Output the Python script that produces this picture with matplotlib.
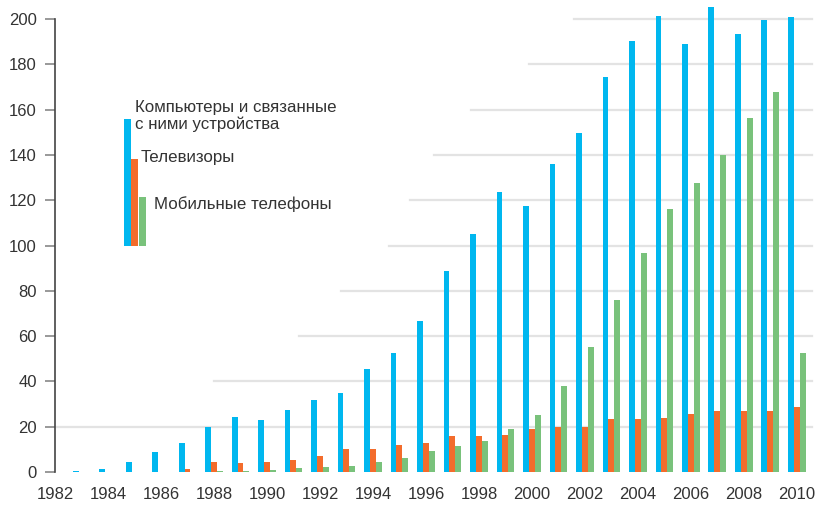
import numpy as np
import matplotlib.pyplot as plt
import matplotlib as mpl

years = np.arange(1983, 2011)
# компьютеры и связанные с ними устройства
computers = [0.5, 1.3, 4.4, 8.8, 12.8, 19.9, 24.3, 23.0, 27.4, 31.8, 34.9, 45.5, 52.6, 66.7,
             88.7, 105.0, 123.6, 117.4, 136.0, 149.7, 174.4, 190.3, 201.3, 189.0, 205.3,
             193.4, 199.6, 200.9]
# телевизоры
tvs = [0, 0, 0, 0, 1.3, 4.4, 4.0, 4.4, 5.3, 7.1, 10.2, 10.2, 11.9, 12.8, 15.9, 15.9, 16.3,
       18.9, 19.8, 19.8, 23.3, 23.3, 23.7, 25.5, 26.8, 26.8, 26.8, 28.5]
# мобильные телефоны
phones = [0, 0, 0, 0, 0, 0.4, 0.4, 0.9, 1.8, 2.2, 2.6, 4.4, 6.2, 9.3, 11.5, 13.7, 19.0,
          25.2, 38.1, 55.3, 75.9, 96.6, 116.1, 127.6, 140.0, 156.3, 167.8, 52.5]

labels = ['Компьютеры и связанные\nс ними устройства', 'Телевизоры', 'Мобильные телефоны']
colors = ['#00b7ef', '#f36c2c', '#79c27b']

yticks = [0, 20, 40, 60, 80, 100, 120, 140, 160, 180, 200]
# с какого года начинается каждая линия сетки
grid_start = [1982, 1982, 1988.0, 1991.2, 1992.8, 1994.6, 1995.4, 1996.3, 1997.7, 1999.9, 2001.6]
xticks = np.arange(1982, 2011, 2)

mpl.rcParams['font.family'] = ['Liberation Sans', 'DejaVu Sans']

fig = plt.figure(figsize=(8.16, 5.05), dpi=100)
ax = fig.add_axes([55 / 816, 33 / 505, 760 / 816, 472 / 505])

w = 0.226
for y, x0 in zip(yticks[1:], grid_start[1:]):
    ax.plot([x0, 2010.57], [y, y], color='#e3e3e3', lw=1.6, zorder=0)

ax.bar(years - w, computers, w, color=colors[0], zorder=2)
ax.bar(years, tvs, w, color=colors[1], zorder=2)
ax.bar(years + w, phones, w, color=colors[2], zorder=2)

# самодельная легенда
lw_ = 0.26
lx = 1984.73
leg_tops = [155.8, 138.2, 121.4]
for i in range(3):
    ax.bar(lx + i * 0.28, leg_tops[i] - 100, lw_, bottom=100, color=colors[i], zorder=2)
ax.text(1985.02, 151.3, labels[0], fontsize=12.2, color='#333333', va='baseline',
        linespacing=1.15)
ax.text(1985.23, 136.7, labels[1], fontsize=12.2, color='#333333', va='baseline')
ax.text(1985.74, 116.0, labels[2], fontsize=12.2, color='#333333', va='baseline')

ax.set_xlim(1982, 2010.68)
ax.set_ylim(0, 208.4)
ax.set_yticks(yticks)
ax.set_xticks(xticks)
ax.tick_params(axis='y', length=7, width=1.2, color='#888888', pad=6,
               labelsize=12, labelcolor='#333333')
ax.tick_params(axis='x', length=0, pad=11, labelsize=12, labelcolor='#333333')
for s in ['top', 'right', 'bottom']:
    ax.spines[s].set_visible(False)
ax.spines['left'].set_color('#444444')
ax.spines['left'].set_linewidth(1.2)
ax.spines['left'].set_bounds(0, 200)

plt.savefig('out.png', dpi=100)
